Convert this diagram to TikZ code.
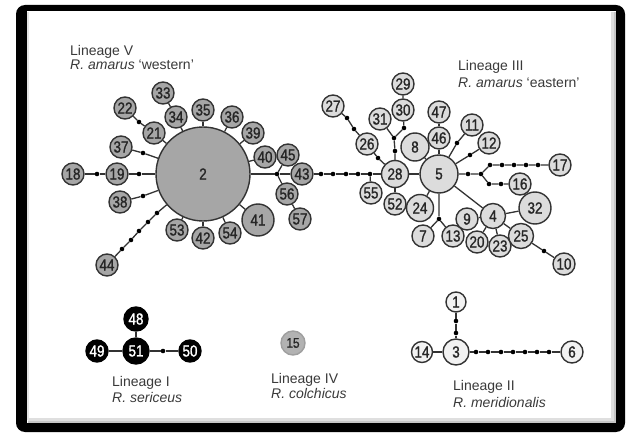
\documentclass[tikz,border=0pt]{standalone}
\usepackage{fontspec}
\setmainfont{Liberation Sans}
\newfontfamily\numfont[FakeStretch=0.84,FakeBold=1.2]{Liberation Sans}
\definecolor{gV}{HTML}{A6A6A6}
\definecolor{gIII}{HTML}{DCDCDC}
\definecolor{gII}{HTML}{F2F2F2}
\definecolor{gIV}{HTML}{B2B2B2}
\definecolor{linec}{HTML}{333333}
\definecolor{labc}{HTML}{3A3A3A}
\tikzset{
  hap/.style={circle, draw=linec, line width=1.4pt, inner sep=0pt, minimum size=22pt,
              font=\numfont\fontsize{16}{16}\selectfont, text=black!85},
  hv/.style={hap, fill=gV},
  hiii/.style={hap, fill=gIII},
  hii/.style={hap, fill=gII},
  hi/.style={hap, fill=black, draw=black, text=white},
  hiv/.style={hap, fill=gIV, draw=gray!75, font=\numfont\fontsize{14}{14}\selectfont},
  dotn/.style={circle, fill=black, inner sep=0pt, minimum size=4.6pt},
  edge/.style={draw=linec, line width=1.3pt},
  lab/.style={font=\fontsize{14}{15}\selectfont, text=labc, anchor=base west, inner sep=0pt}
}
\begin{document}
\begin{tikzpicture}[x=1pt,y=-1pt]
\useasboundingbox (0,0) rectangle (630,433);
% frame
\fill[black, rounded corners=9pt] (16,5) rectangle (625,432);
\fill[white] (27,11) rectangle (616,423);
\draw[gray!25, line width=4pt] (613,12) -- (613,420) -- (28,420);
\draw[gray!45, line width=1.5pt] (615,12) -- (615,422) -- (28,422);
\draw[gray!20, line width=2pt] (28,12) -- (28,420);

% ---------------- Lineage V ----------------
\node[hv, minimum size=94pt] (n2) at (203,174) {2};
\node[hv] (n33) at (163,93) {33};
\node[hv] (n34) at (176,117) {34};
\node[hv] (n22) at (125,108) {22};
\node[hv] (n21) at (154,133) {21};
\node[hv] (n35) at (203,110) {35};
\node[hv] (n36) at (232,117) {36};
\node[hv] (n39) at (253,133) {39};
\node[hv] (n40) at (265,157) {40};
\node[hv] (n45) at (288,155) {45};
\node[hv] (n43) at (302,174) {43};
\node[hv] (n56) at (287,194) {56};
\node[hv] (n57) at (300,219) {57};
\node[hv, minimum size=32pt] (n41) at (258,220) {41};
\node[hv] (n54) at (230,233) {54};
\node[hv] (n42) at (203,238) {42};
\node[hv] (n53) at (177,230) {53};
\node[hv] (n44) at (107,265) {44};
\node[hv] (n38) at (120,202) {38};
\node[hv] (n37) at (121,147) {37};
\node[hv] (n19) at (117,174) {19};
\node[hv] (n18) at (73,174) {18};

\node[dotn] (d1) at (97,174) {};
\node[dotn] (d2) at (139,174) {};
\node[dotn] (d3) at (139,122) {};
\node[dotn] (d4) at (143,153) {};
\node[dotn] (d5) at (143,196) {};
\node[dotn] (a1) at (122,249) {};
\node[dotn] (a2) at (131,240) {};
\node[dotn] (a3) at (139,231) {};
\node[dotn] (a4) at (148,222) {};
\node[dotn] (a5) at (157,213) {};
\node[dotn] (j1) at (277,174) {};

\draw[edge] (n33) -- (n34) -- (n2);
\draw[edge] (n22) -- (d3) -- (n21) -- (n2);
\draw[edge] (n35) -- (n2);
\draw[edge] (n36) -- (n2);
\draw[edge] (n39) -- (n2);
\draw[edge] (n40) -- (n2);
\draw[edge] (n37) -- (d4) -- (n2);
\draw[edge] (n18) -- (d1) -- (n19) -- (d2) -- (n2);
\draw[edge] (n38) -- (d5) -- (n2);
\draw[edge] (n44) -- (a1) -- (a2) -- (a3) -- (a4) -- (a5) -- (n2);
\draw[edge] (n53) -- (n2);
\draw[edge] (n42) -- (n2);
\draw[edge] (n54) -- (n2);
\draw[edge] (n41) -- (n2);
\draw[edge] (n2) -- (j1) -- (n43);
\draw[edge] (j1) -- (n45);
\draw[edge] (j1) -- (n56) -- (n57);

% ---------------- Lineage III ----------------
\node[hiii, minimum size=27pt] (n28) at (395,174) {28};
\node[hiii] (n55) at (371,193) {55};
\node[hiii] (n52) at (395,204) {52};
\node[hiii] (n26) at (367,144) {26};
\node[hiii] (n27) at (333,106) {27};
\node[hiii] (n31) at (380,119) {31};
\node[hiii] (n30) at (403,110) {30};
\node[hiii] (n29) at (403,84) {29};
\node[hiii, minimum size=28pt] (n8) at (415,147) {8};
\node[hiii, minimum size=38pt] (n5) at (439,174) {5};
\node[hiii] (n46) at (439,138) {46};
\node[hiii] (n47) at (439,112) {47};
\node[hiii] (n11) at (472,125) {11};
\node[hiii] (n12) at (489,143) {12};
\node[hiii] (n17) at (560,165) {17};
\node[hiii] (n16) at (520,184) {16};
\node[hiii, minimum size=27pt] (n24) at (420,208) {24};
\node[hiii] (n7) at (423,236) {7};
\node[hiii] (n13) at (453,236) {13};
\node[hiii, minimum size=25pt] (n4) at (493,216) {4};
\node[hiii] (n9) at (467,219) {9};
\node[hiii] (n20) at (477,242) {20};
\node[hiii] (n23) at (500,246) {23};
\node[hiii, minimum size=25pt] (n25) at (521,236) {25};
\node[hiii, minimum size=32pt] (n32) at (535,208) {32};
\node[hiii] (n10) at (564,264) {10};

\node[dotn] (e1) at (321,174) {};
\node[dotn] (e2) at (333,174) {};
\node[dotn] (e3) at (346,174) {};
\node[dotn] (e4) at (358,174) {};
\node[dotn] (e5) at (370,174) {};
\node[dotn] (f1) at (347,118) {};
\node[dotn] (f2) at (354,129) {};
\node[dotn] (f3) at (378,158) {};
\node[dotn] (j2) at (394,138) {};
\node[dotn] (f4) at (404,128) {};
\node[dotn] (f5) at (395,151) {};
\node[dotn] (g1) at (457,143) {};
\node[dotn] (g2) at (470,155) {};
\node[dotn] (g3) at (468,174) {};
\node[dotn] (j3) at (481,174) {};
\node[dotn] (g4) at (490,165) {};
\node[dotn] (g5) at (502,165) {};
\node[dotn] (g6) at (514,165) {};
\node[dotn] (g7) at (526,165) {};
\node[dotn] (g8) at (538,165) {};
\node[dotn] (g9) at (489,184) {};
\node[dotn] (g10) at (501,184) {};
\node[dotn] (j4) at (439,219) {};
\node[dotn] (g11) at (544,251) {};

\draw[edge] (n43) -- (e1) -- (e2) -- (e3) -- (e4) -- (e5) -- (n28);
\draw[edge] (e5) -- (n55);
\draw[edge] (n28) -- (n52);
\draw[edge] (n27) -- (f1) -- (f2) -- (n26) -- (f3) -- (n28);
\draw[edge] (n29) -- (n30) -- (f4) -- (j2) -- (f5) -- (n28);
\draw[edge] (n31) -- (j2);
\draw[edge] (n28) -- (n5);
\draw[edge] (n8) -- (n5);
\draw[edge] (n47) -- (n46) -- (n5);
\draw[edge] (n5) -- (g1) -- (n11);
\draw[edge] (n5) -- (g2) -- (n12);
\draw[edge] (n5) -- (g3) -- (j3) -- (g4) -- (g5) -- (g6) -- (g7) -- (g8) -- (n17);
\draw[edge] (j3) -- (g9) -- (g10) -- (n16);
\draw[edge] (n5) -- (n24);
\draw[edge] (n5) -- (j4) -- (n7);
\draw[edge] (j4) -- (n13);
\draw[edge] (n5) -- (n4);
\draw[edge] (n9) -- (n4);
\draw[edge] (n4) -- (n20);
\draw[edge] (n4) -- (n23);
\draw[edge] (n4) -- (n25);
\draw[edge] (n4) -- (n32);
\draw[edge] (n25) -- (g11) -- (n10);

% ---------------- Lineage I ----------------
\node[hi, minimum size=24pt] (n48) at (136,319) {48};
\node[hi, minimum size=26pt] (n51) at (136,351) {51};
\node[hi] (n49) at (97,351) {49};
\node[hi] (n50) at (190,351) {50};
\node[dotn] (h1) at (163,351) {};
\draw[edge] (n48) -- (n51);
\draw[edge] (n49) -- (n51);
\draw[edge] (n51) -- (h1) -- (n50);

% ---------------- Lineage IV ----------------
\node[hiv, minimum size=24pt] (n15) at (293,343) {15};

% ---------------- Lineage II ----------------
\node[hii, minimum size=20pt] (n1) at (456,302) {1};
\node[hii, minimum size=26pt] (n3) at (456,352) {3};
\node[hii, minimum size=21pt] (n14) at (422,352) {14};
\node[hii] (n6) at (572,352) {6};
\node[dotn] (k1) at (456,321) {};
\node[dotn] (k2) at (456,333) {};
\node[dotn] (m1) at (476,352) {};
\node[dotn] (m2) at (488,352) {};
\node[dotn] (m3) at (501,352) {};
\node[dotn] (m4) at (513,352) {};
\node[dotn] (m5) at (525,352) {};
\node[dotn] (m6) at (537,352) {};
\node[dotn] (m7) at (549,352) {};
\draw[edge] (n1) -- (k1) -- (k2) -- (n3);
\draw[edge] (n14) -- (n3);
\draw[edge] (n3) -- (m1) -- (m2) -- (m3) -- (m4) -- (m5) -- (m6) -- (m7) -- (n6);

% ---------------- labels ----------------
\node[lab] (lV1) at (70,56) {Lineage V};
\node[lab] (lV2) at (70,70) {\textit{R. amarus} ‘western’};
\node[lab] (lIII1) at (458,71) {Lineage III};
\node[lab] (lIII2) at (458,88) {\textit{R. amarus} ‘eastern’};
\node[lab] (lI1) at (112,386) {Lineage I};
\node[lab] (lI2) at (112,402) {\textit{R. sericeus}};
\node[lab] (lIV1) at (271,383) {Lineage IV};
\node[lab] (lIV2) at (271,398) {\textit{R. colchicus}};
\node[lab] (lII1) at (453,390) {Lineage II};
\node[lab] (lII2) at (453,407) {\textit{R. meridionalis}};
\end{tikzpicture}
\end{document}
